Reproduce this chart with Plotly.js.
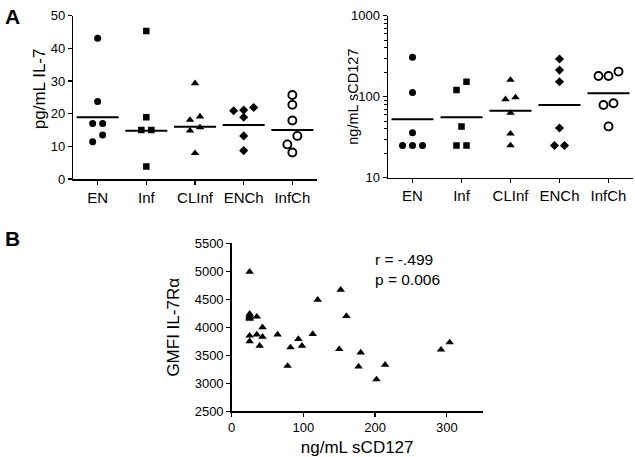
<!DOCTYPE html>
<html>
<head>
<meta charset="utf-8">
<script src="https://cdn.plot.ly/plotly-3.0.1.min.js"></script>
<style>html,body{margin:0;padding:0;background:#fff}#chart{width:635px;height:457px}</style>
</head>
<body>
<div id="chart"></div>
<script>
// ---------- DATA ----------
const categories = ["EN", "Inf", "CLInf", "ENCh", "InfCh"];

// Panel A (left): pg/mL IL-7
const il7_EN    = [43.1, 23.7, 17.0, 17.0, 13.5, 11.4];
const il7_Inf   = [45.3, 18.9, 15.0, 15.0, 3.8];
const il7_CLInf = [29.3, 19.1, 18.1, 15.8, 14.8, 7.9];
const il7_ENCh  = [21.9, 21.1, 20.9, 18.9, 13.2, 8.7];
const il7_InfCh = [25.7, 22.7, 17.9, 13.2, 10.6, 8.1];
const il7_lines = [18.9, 14.8, 16.0, 16.5, 15.0];

// Panel A (right): ng/mL sCD127
const scd_EN    = [306, 113, 36, 25, 25, 25];
const scd_Inf   = [153, 121, 43, 25, 25];
const scd_CLInf = [161, 98, 93, 63, 35, 25];
const scd_ENCh  = [292, 213, 153, 41, 25, 25];
const scd_InfCh = [204, 180, 180, 83, 79, 43];
const scd_lines = [52.5, 55.6, 67, 78.9, 110];

// Panel B: sCD127 vs GMFI IL-7Ra
const b_scd127 = [25, 25, 25, 25, 25, 25, 25, 25, 35, 43, 35, 43, 39, 64, 93, 82, 98, 78, 113, 120, 152, 160, 150, 180, 177, 214, 202, 292, 304];
const b_gmfi   = [4990, 4240, 4210, 4190, 4170, 4150, 3850, 3750, 4190, 4000, 3870, 3830, 3670, 3870, 3790, 3640, 3670, 3310, 3880, 4490, 4670, 4200, 3610, 3550, 3300, 3330, 3070, 3600, 3730];

const stats = ["r = -.499", "p = 0.006"];
const titleA1y = "pg/mL IL-7";
const titleA2y = "ng/mL sCD127";
const titleBx = "ng/mL sCD127";
const titleBy = "GMFI IL-7Rα";

// ---------- HELPERS ----------
const FONT = "Liberation Sans, Arial, Helvetica, sans-serif";
const W = 635, H = 457;

// Prism-like row layout: points close in pixel-y share a row and are centred around the category.
function rowOffsets(values, toPx, spacingPx, catPx, thresholdPx) {
  const idx = values.map((v, i) => i).sort((a, b) => values[b] - values[a]);
  const rows = [];
  idx.forEach(i => {
    const last = rows[rows.length - 1];
    if (last && Math.abs(toPx(values[last[0]]) - toPx(values[i])) < thresholdPx) last.push(i);
    else rows.push([i]);
  });
  const off = new Array(values.length).fill(0);
  rows.forEach(r => {
    const sorted = r.slice().sort((a, b) => values[a] - values[b]);
    sorted.forEach((i, k) => { off[i] = (k - (sorted.length - 1) / 2) * spacingPx / catPx; });
  });
  return off;
}

const domA1 = {x: [73.3 / W, 316.7 / W], y: [1 - 179 / H, 1 - 15.7 / H]};
const domA2 = {x: [388 / W, 633 / W], y: [1 - 177.7 / H, 1 - 15.7 / H]};
const domB  = {x: [231.7 / W, 482.6 / W], y: [1 - 411.3 / H, 1 - 243.3 / H]};

const hA1 = (domA1.y[1] - domA1.y[0]) * H, wA1 = (domA1.x[1] - domA1.x[0]) * W / 5;
const hA2 = (domA2.y[1] - domA2.y[0]) * H, wA2 = (domA2.x[1] - domA2.x[0]) * W / 5;
const pxA1 = v => v * hA1 / 50;
const pxA2 = v => Math.log10(v) * hA2 / 2;

const il7Groups = [il7_EN, il7_Inf, il7_CLInf, il7_ENCh, il7_InfCh];
const scdGroups = [scd_EN, scd_Inf, scd_CLInf, scd_ENCh, scd_InfCh];

const markerStyles = [
  {symbol: "circle", size: 7, color: "#000"},
  {symbol: "square", size: 6.5, color: "#000"},
  {symbol: "triangle-up", size: 7.5, color: "#000"},
  {symbol: "diamond", size: 7, color: "#000"},
  {symbol: "circle-open", size: 8, color: "#000", line: {width: 1.9, color: "#000"}}
];

const traces = [];
function addGroups(groups, toPx, catPx, xa, ya) {
  groups.forEach((vals, c) => {
    const off = rowOffsets(vals, toPx, 10, catPx, 8.5);
    const ms = Object.assign({}, markerStyles[c]);
    if (!ms.line) ms.line = {width: 0};
    traces.push({
      type: "scatter", mode: "markers", xaxis: xa, yaxis: ya,
      x: vals.map((v, i) => c + off[i]), y: vals,
      marker: ms, showlegend: false, hoverinfo: "y"
    });
  });
}
addGroups(il7Groups, pxA1, wA1, "x", "y");
addGroups(scdGroups, pxA2, wA2, "x2", "y2");

// central lines
traces.push({type: "scatter", mode: "markers", xaxis: "x", yaxis: "y",
  x: categories.map((c, i) => i), y: il7_lines,
  marker: {symbol: "line-ew", size: 30, line: {width: 2, color: "#000"}}, showlegend: false});
traces.push({type: "scatter", mode: "markers", xaxis: "x2", yaxis: "y2",
  x: categories.map((c, i) => i), y: scd_lines,
  marker: {symbol: "line-ew", size: 30, line: {width: 2, color: "#000"}}, showlegend: false});

// panel B
traces.push({type: "scatter", mode: "markers", xaxis: "x3", yaxis: "y3",
  x: b_scd127, y: b_gmfi,
  marker: {symbol: "triangle-up", size: 7.5, color: "#000", line: {width: 0}}, showlegend: false});

const axisBase = {
  showline: true, linecolor: "#000", linewidth: 1.5, mirror: false,
  ticks: "outside", ticklen: 4, tickwidth: 1.2, tickcolor: "#000",
  showgrid: false, zeroline: false, tickfont: {family: FONT, size: 13, color: "#000"},
  automargin: false
};
function ax(extra) { return Object.assign({}, axisBase, extra); }

const layout = {
  width: W, height: H, margin: {l: 0, r: 0, t: 0, b: 0},
  paper_bgcolor: "#fff", plot_bgcolor: "#fff",
  font: {family: FONT, color: "#000"},
  xaxis: ax({domain: domA1.x, anchor: "y", range: [-0.5, 4.5], tickvals: [0, 1, 2, 3, 4], ticktext: categories,
    tickfont: {family: FONT, size: 15, color: "#000"}}),
  yaxis: ax({domain: domA1.y, anchor: "x", range: [0, 50], dtick: 10}),
  xaxis2: ax({domain: domA2.x, anchor: "y2", range: [-0.5, 4.5], tickvals: [0, 1, 2, 3, 4], ticktext: categories,
    tickfont: {family: FONT, size: 15, color: "#000"}}),
  yaxis2: ax({domain: domA2.y, anchor: "x2", type: "log", range: [1, 3], tickvals: [10, 100, 1000], ticktext: ["10", "100", "1000"],
    minor: {ticks: "outside", ticklen: 2.5, tickwidth: 1, tickcolor: "#000", tickvals: [20,30,40,50,60,70,80,90,200,300,400,500,600,700,800,900], showgrid: false}}),
  xaxis3: ax({domain: domB.x, anchor: "y3", range: [0, 350], tickvals: [0, 100, 200, 300],
    title: {text: titleBx, font: {family: FONT, size: 17}}}),
  yaxis3: ax({domain: domB.y, anchor: "x3", range: [2500, 5500], dtick: 500,
    title: {text: titleBy, font: {family: FONT, size: 17}, standoff: 10}}),
  annotations: [
    {text: "<b>A</b>", xref: "paper", yref: "paper", x: 3 / W, y: 1 - 3 / H, xanchor: "left", yanchor: "top",
      showarrow: false, font: {family: FONT, size: 21, color: "#000"}},
    {text: "<b>B</b>", xref: "paper", yref: "paper", x: 3 / W, y: 1 - 225 / H, xanchor: "left", yanchor: "top",
      showarrow: false, font: {family: FONT, size: 21, color: "#000"}},
    {text: titleA1y, xref: "paper", yref: "y domain", x: 39 / W, y: 0.55, xanchor: "center", yanchor: "middle",
      textangle: -90, showarrow: false, font: {family: FONT, size: 17, color: "#000"}},
    {text: titleA2y, xref: "paper", yref: "y2 domain", x: 353 / W, y: 0.5, xanchor: "center", yanchor: "middle",
      textangle: -90, showarrow: false, font: {family: FONT, size: 14.5, color: "#000"}},
    {text: stats.join("<br>"), xref: "x3", yref: "y3", x: 197, y: 5390, xanchor: "left", yanchor: "top", align: "left",
      showarrow: false, font: {family: FONT, size: 15.5, color: "#000"}}
  ]
};

Plotly.newPlot("chart", traces, layout, {staticPlot: true, displayModeBar: false});
</script>
</body>
</html>
